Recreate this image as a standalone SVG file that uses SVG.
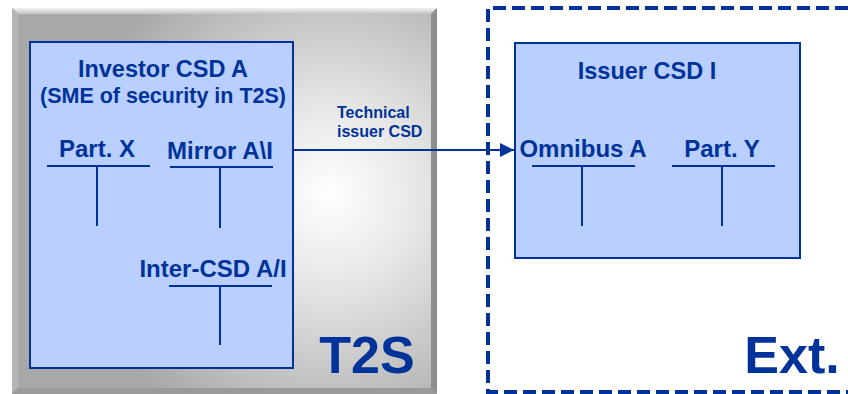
<svg xmlns="http://www.w3.org/2000/svg" width="848" height="394" viewBox="0 0 848 394">
<defs>
<radialGradient id="t2sFill" cx="330" cy="195" r="260" gradientUnits="userSpaceOnUse">
<stop offset="0" stop-color="#ffffff"/>
<stop offset="0.35" stop-color="#e6e6e6"/>
<stop offset="1" stop-color="#a8a8a8"/>
</radialGradient>
<linearGradient id="topBevel" x1="0" y1="0" x2="0" y2="1">
<stop offset="0" stop-color="#f2f2f2"/>
<stop offset="1" stop-color="#c4c4c4"/>
</linearGradient>
<marker id="arrow" viewBox="0 0 14 14" refX="14" refY="7" markerWidth="14" markerHeight="14" markerUnits="userSpaceOnUse" orient="auto">
<path d="M0,0 L14,7 L0,14 z" fill="#003399"/>
</marker>
</defs>
<style>
.t{font-family:"Liberation Sans",Arial,sans-serif;font-weight:bold;fill:#003399}
.box{fill:#b9cfff;stroke:#003399;stroke-width:2}
.ln{stroke:#003399;stroke-width:2;fill:none}
</style>
<rect width="848" height="394" fill="#ffffff"/>

<g id="t2s-panel">
<rect x="12" y="8" width="425" height="386" fill="#a8a8a8"/>
<polygon points="12,8 437,8 431,14 18,14" fill="url(#topBevel)"/>
<polygon points="12,8 18,14 18,388 12,394" fill="#b4b4b4"/>
<polygon points="437,8 437,394 431,388 431,14" fill="#8e8e8e"/>
<polygon points="12,394 18,388 431,388 437,394" fill="#9a9a9a"/>
<rect x="18" y="14" width="413" height="374" fill="url(#t2sFill)"/>
<text class="t" x="367" y="373" font-size="52" text-anchor="middle">T2S</text>
</g>

<g id="ext-panel">
<path d="M848,8 L488,8 L488,392 L848,392" fill="none" stroke="#003399" stroke-width="4" stroke-dasharray="13,6"/>
<text class="t" x="792" y="373" font-size="52" text-anchor="middle">Ext.</text>
</g>

<g id="investor-csd">
<rect class="box" x="30" y="42" width="263" height="326"/>
<text class="t" x="163" y="77" font-size="23.5" text-anchor="middle">Investor CSD A</text>
<text class="t" x="163" y="103" font-size="22" text-anchor="middle" textLength="246" lengthAdjust="spacingAndGlyphs">(SME of security in T2S)</text>
</g>

<g id="part-x">
<text class="t" x="97" y="157" font-size="24" text-anchor="middle">Part. X</text>
<path class="ln" d="M47,166 H150 M97,166 V226"/>
</g>

<g id="mirror-ai">
<text class="t" x="220" y="159" font-size="24" text-anchor="middle">Mirror A\I</text>
<path class="ln" d="M170,167 H273 M220,167 V228"/>
</g>

<g id="inter-csd">
<text class="t" x="213" y="277" font-size="24" text-anchor="middle">Inter-CSD A/I</text>
<path class="ln" d="M169,286 H272 M220,286 V345"/>
</g>

<g id="issuer-csd">
<rect class="box" x="515" y="43" width="285" height="215"/>
<text class="t" x="647" y="79" font-size="23.5" text-anchor="middle">Issuer CSD I</text>
</g>

<g id="omnibus-a">
<text class="t" x="583" y="157" font-size="24" text-anchor="middle">Omnibus A</text>
<path class="ln" d="M532,166 H635 M582,166 V226"/>
</g>

<g id="part-y">
<text class="t" x="722" y="157" font-size="24" text-anchor="middle">Part. Y</text>
<path class="ln" d="M672,166 H775 M722,166 V226"/>
</g>

<g id="connectors">
<line x1="294" y1="150" x2="514" y2="150" stroke="#003399" stroke-width="2" marker-end="url(#arrow)"/>
<text class="t" x="337" y="118" font-size="16">Technical</text>
<text class="t" x="337" y="137" font-size="16">issuer CSD</text>
</g>
</svg>
